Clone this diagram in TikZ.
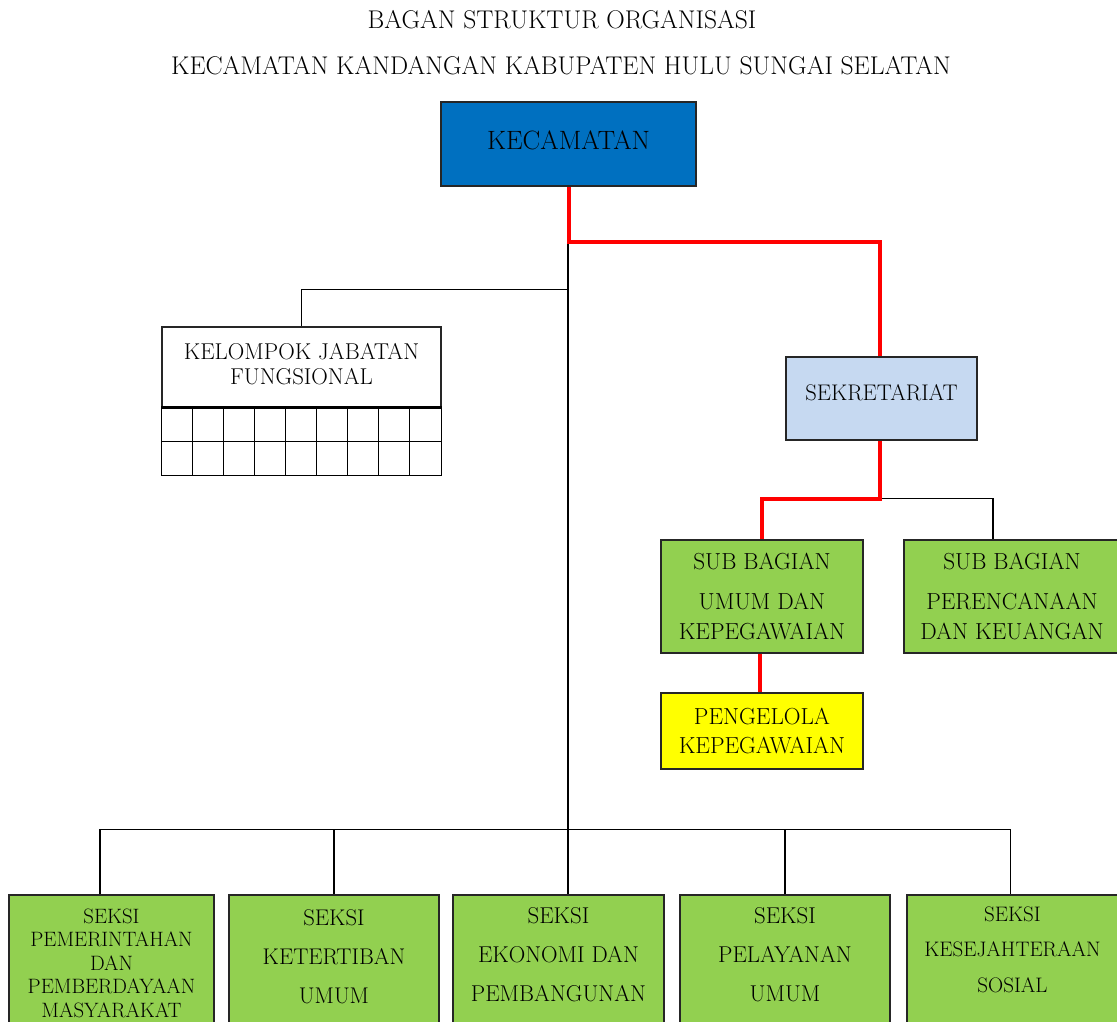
\documentclass[tikz,border=0pt]{standalone}
\usetikzlibrary{calc}
\definecolor{kblue}{HTML}{0070C0}
\definecolor{klight}{HTML}{C6D9F1}
\definecolor{kgreen}{HTML}{92D050}
\definecolor{kyellow}{HTML}{FFFF00}
\definecolor{kred}{HTML}{FF0000}
\newcommand\fsTitle{\fontsize{25.6}{28}\selectfont}
\newcommand\fsMain{\fontsize{23.2}{30}\selectfont}
\newcommand\fsSmall{\fontsize{20.8}{23.5}\selectfont}
\begin{document}
\begin{tikzpicture}[x=1pt,y=-1pt,
  box/.style={draw=black!85, line width=1.4pt, inner sep=0pt, align=center, font=\fsMain},
  gbox/.style={box, fill=kgreen},
  lbl/.style={inner sep=0pt, align=center},
  conn/.style={draw=black, line width=1.1pt},
  redline/.style={draw=kred, line width=4pt},
  gridline/.style={draw=black, line width=1.3pt}]
\clip (0,0) rectangle (1117,1021);
\fill[white] (0,0) rectangle (1117,1021);

% titles
\node[lbl, font=\fsTitle] (title1) at (562,20) {BAGAN STRUKTUR ORGANISASI};
\node[lbl, font=\fsTitle] (title2) at (561,66) {KECAMATAN KANDANGAN KABUPATEN HULU SUNGAI SELATAN};

% top
\node[box, fill=kblue, minimum width=255, minimum height=84, text height=18pt, text depth=8pt, font=\fontsize{26.5}{30}\selectfont] (kec) at (568.5,144) {KECAMATAN};

% kelompok jabatan fungsional
\node[box, fill=white, minimum width=279, minimum height=80, font=\fontsize{22.9}{25}\selectfont] (kjf) at (301.5,367) {KELOMPOK JABATAN\\FUNGSIONAL\\[-19pt]\mbox{}};
\draw[gridline] (kjf.south west) rectangle ($(kjf.south east)+(0,68)$);
\draw[gridline] ($(kjf.south west)+(0,34)$) -- ($(kjf.south east)+(0,34)$);
\foreach \i in {1,...,8} {
  \draw[gridline] ($(kjf.south west)+(\i*31,0)$) -- ++(0,68);
}
\draw[black, line width=3pt] (kjf.south west) -- (kjf.south east);

% sekretariat
\node[box, fill=klight, minimum width=191, minimum height=83, text height=15.6pt, text depth=11pt, font=\fontsize{22.6}{28}\selectfont] (sek) at (881.5,398.5) {SEKRETARIAT};

\node[gbox, minimum width=202, minimum height=113] (sbu) at (762,596.5) {SUB BAGIAN\\[10pt]UMUM DAN\\KEPEGAWAIAN};
\node[gbox, minimum width=216, minimum height=113] (sbp) at (1012,596.5) {SUB BAGIAN\\[10pt]PERENCANAAN\\DAN KEUANGAN};
\node[box, fill=kyellow, minimum width=202, minimum height=76, font=\fontsize{23.2}{29}\selectfont] (peng) at (762,731) {PENGELOLA\\KEPEGAWAIAN};

% seksi boxes
\node[gbox, minimum width=205, minimum height=160] (s1) at (111.5,975) {};
\node[gbox, minimum width=210, minimum height=160] (s2) at (334,975) {};
\node[gbox, minimum width=211, minimum height=160] (s3) at (558.5,975) {};
\node[gbox, minimum width=210, minimum height=160] (s4) at (785,975) {};
\node[gbox, minimum width=211, minimum height=160] (s5) at (1012.5,975) {};

\node[lbl, font=\fsSmall] (s1t) at (111.5,963) {SEKSI\\PEMERINTAHAN\\DAN\\PEMBERDAYAAN\\MASYARAKAT};
\node[lbl, font=\fontsize{22.7}{39}\selectfont] (s2t) at (334,957) {SEKSI\\KETERTIBAN\\UMUM};
\node[lbl, font=\fontsize{22.9}{39}\selectfont] (s3t) at (558.5,955) {SEKSI\\EKONOMI DAN\\PEMBANGUNAN};
\node[lbl, font=\fontsize{22.9}{39}\selectfont] (s4t) at (785,955) {SEKSI\\PELAYANAN\\UMUM};
\node[lbl, font=\fontsize{21}{35.5}\selectfont] (s5t) at (1012.5,949.5) {SEKSI\\KESEJAHTERAAN\\SOSIAL};

% connectors
\coordinate (j1) at ($(kec.south)+(-0.5,55)$);
\coordinate (j2) at ($(j1)+(0,48)$);
\coordinate (bus) at ($(j1)+(0,588)$);
\coordinate (j3) at ($(sek.south)+(-1.5,58)$);

\draw[conn] (j1) -- (j1 |- s3.north);
\draw[conn] (j2) -| (kjf.north);
\draw[conn] ([xshift=-11.5pt]s1.north) |- (bus) -| ([xshift=-2pt]s5.north);
\draw[conn] (s2.north) -- (s2.north |- bus);
\draw[conn] (s4.north) -- (s4.north |- bus);
\draw[conn] (j3) -| ([xshift=-19pt]sbp.north);

\draw[redline] (kec.south) -- (kec.south |- j1) -| ([xshift=-1.5pt]sek.north);
\draw[redline] ([xshift=-1.5pt]sek.south) -- (j3) -| (sbu.north);
\draw[redline] ([xshift=-2pt]sbu.south) -- ([xshift=-2pt]peng.north);
\end{tikzpicture}
\end{document}
